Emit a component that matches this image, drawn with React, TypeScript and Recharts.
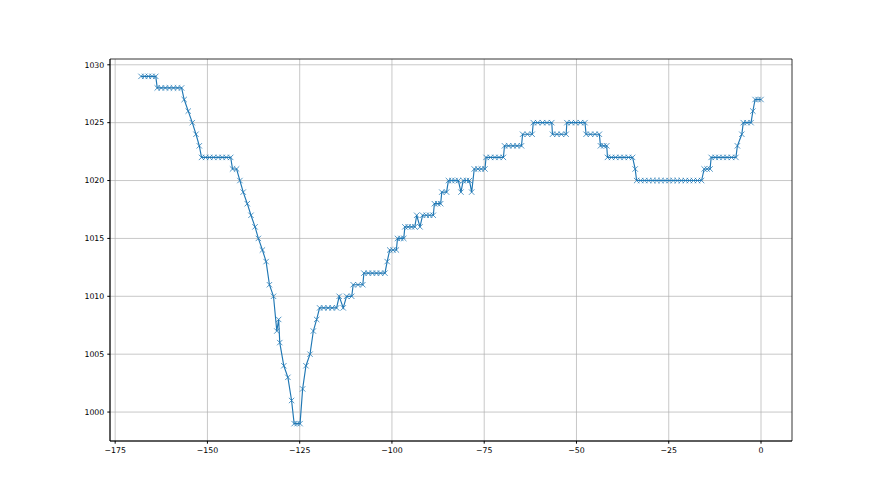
import { LineChart, Line, XAxis, YAxis, CartesianGrid, ReferenceArea } from "recharts"

// hours before now, grouped per pressure level (same layout as hPa below)
const hours = [
  -168, -167, -166, -165, -164,
  -163.6, -162.5, -161.4, -160.3, -159.2, -158.1, -157,
  -156.3, -155.2, -154.1, -153.1, -152.2,
  -151.6, -150.5, -149.4, -148.3, -147.1, -146, -144.9, -143.7,
  -143.2, -142.1,
  -141.2, -140.3, -139.2, -138.2, -137.1, -136.2, -135.1, -134.1, -133.2, -132.1,
  -131.2, -130.7, -130.4, -129.3, -128.2, -127.2,
  -126.5, -125.7, -124.9,
  -124.2, -123.3, -122.2, -121.3, -120.4,
  -119.6, -118.5, -117.3, -116.2, -115,
  -114.3, -113.2,
  -112.3, -110.9,
  -110.5, -109.2, -107.9,
  -107.6, -106.4, -105.3, -104.2, -103.1, -101.9,
  -101.3,
  -100.6, -99.7, -98.8,
  -98.5, -97.6, -96.8,
  -96.5, -95.6, -94.7, -93.8,
  -93.3, -92.4,
  -91.7, -90.7, -89.8, -88.8,
  -88.5, -87.6, -86.8,
  -86.5, -85.2,
  -84.7, -83.8, -82.9, -82,
  -81.3,
  -80.7, -79.8, -79,
  -78.4,
  -77.7, -76.7, -75.8, -74.8,
  -74.5, -73.3, -72.1, -71, -69.8,
  -69.5, -68.4, -67.2, -66.1, -64.9,
  -64.6, -63.3, -62,
  -61.7, -60.5, -59.2, -58, -56.7,
  -56.5, -55.3, -54.1, -52.8,
  -52.6, -51.4, -50.2, -48.9, -47.7,
  -47.4, -46.2, -45, -43.8,
  -43.5, -42.6, -41.8,
  -41.6, -40.5, -39.4, -38.2, -37.1, -35.9, -34.8,
  -34.1,
  -33.7, -32.6, -31.5, -30.4, -29.3, -28.2, -27.1, -26, -24.9, -23.8, -22.7, -21.6, -20.5, -19.4, -18.3, -17.2, -16.1,
  -15.4, -14.6, -13.8,
  -13.5, -12.4, -11.4, -10.3, -9.2, -8, -6.8,
  -6.4, -5.2,
  -4.8, -3.8, -2.7,
  -2.2,
  -1.6, -0.8, 0,
]

const hPa = [
  1029, 1029, 1029, 1029, 1029,
  1028, 1028, 1028, 1028, 1028, 1028, 1028,
  1027, 1026, 1025, 1024, 1023,
  1022, 1022, 1022, 1022, 1022, 1022, 1022, 1022,
  1021, 1021,
  1020, 1019, 1018, 1017, 1016, 1015, 1014, 1013, 1011, 1010,
  1007, 1008, 1006, 1004, 1003, 1001,
  999, 999, 999,
  1002, 1004, 1005, 1007, 1008,
  1009, 1009, 1009, 1009, 1009,
  1010, 1009,
  1010, 1010,
  1011, 1011, 1011,
  1012, 1012, 1012, 1012, 1012, 1012,
  1013,
  1014, 1014, 1014,
  1015, 1015, 1015,
  1016, 1016, 1016, 1016,
  1017, 1016,
  1017, 1017, 1017, 1017,
  1018, 1018, 1018,
  1019, 1019,
  1020, 1020, 1020, 1020,
  1019,
  1020, 1020, 1020,
  1019,
  1021, 1021, 1021, 1021,
  1022, 1022, 1022, 1022, 1022,
  1023, 1023, 1023, 1023, 1023,
  1024, 1024, 1024,
  1025, 1025, 1025, 1025, 1025,
  1024, 1024, 1024, 1024,
  1025, 1025, 1025, 1025, 1025,
  1024, 1024, 1024, 1024,
  1023, 1023, 1023,
  1022, 1022, 1022, 1022, 1022, 1022, 1022,
  1021,
  1020, 1020, 1020, 1020, 1020, 1020, 1020, 1020, 1020, 1020, 1020, 1020, 1020, 1020, 1020, 1020, 1020,
  1021, 1021, 1021,
  1022, 1022, 1022, 1022, 1022, 1022, 1022,
  1023, 1024,
  1025, 1025, 1025,
  1026,
  1027, 1027, 1027,
]

const xTicks = [-175, -150, -125, -100, -75, -50, -25, 0]
const yTicks = [1000, 1005, 1010, 1015, 1020, 1025, 1030]

const data = hours.map((x, i) => ({ x, p: hPa[i] }))

const blue = "#1f77b4"
const fmt = (v: number) => String(v).replace("-", "\u2212")
const tickStyle = { fontFamily: "DejaVu Sans", fontSize: 7.8, fill: "#000" }

const Cross = (props: any) => {
  const { cx, cy, index } = props
  if (cx == null || cy == null) return <g key={index} />
  const r = 2.7
  return (
    <path
      key={index}
      d={`M${cx - r},${cy - r}L${cx + r},${cy + r}M${cx - r},${cy + r}L${cx + r},${cy - r}`}
      stroke={blue}
      strokeWidth={0.9}
      strokeOpacity={0.85}
      fill="none"
    />
  )
}

export default function App() {
  return (
    <div style={{ position: "absolute", left: 0, top: 0, width: 880, height: 495, background: "#fff" }}>
      <LineChart width={880} height={495} data={data} margin={{ top: 59, right: 88, bottom: 24, left: 50 }}>
        <CartesianGrid stroke="#b0b0b0" strokeWidth={0.7} horizontalValues={yTicks} verticalValues={xTicks} />
        <XAxis
          type="number"
          dataKey="x"
          domain={[-176.4, 8.4]}
          ticks={xTicks}
          tickFormatter={fmt}
          allowDataOverflow
          height={30}
          tick={tickStyle}
          tickSize={2.7}
          tickMargin={3.5}
          stroke="#000"
          axisLine={{ stroke: "#000", strokeWidth: 0.8 }}
        />
        <YAxis
          type="number"
          dataKey="p"
          domain={[997.5, 1030.5]}
          ticks={yTicks}
          allowDataOverflow
          width={60}
          tick={tickStyle}
          tickSize={2.7}
          tickMargin={3}
          stroke="#000"
          axisLine={{ stroke: "#000", strokeWidth: 0.8 }}
        />
        <ReferenceArea x1={-176.4} x2={8.4} y1={997.5} y2={1030.5} fill="none" stroke="#000" strokeWidth={0.8} />
        <Line
          type="linear"
          dataKey="p"
          stroke={blue}
          strokeWidth={1.15}
          dot={Cross}
          activeDot={false}
          isAnimationActive={false}
        />
      </LineChart>
    </div>
  )
}
